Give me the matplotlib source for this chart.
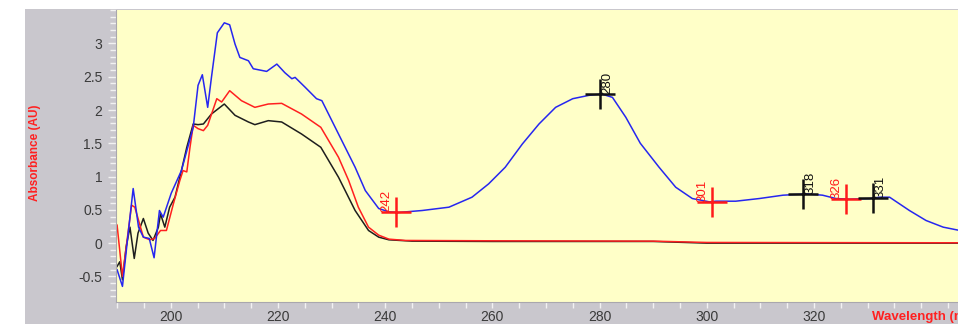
import numpy as np
import matplotlib
matplotlib.use('Agg')
import matplotlib.pyplot as plt
from matplotlib.patches import Rectangle
from matplotlib.ticker import MultipleLocator, FixedLocator, FuncFormatter

plt.rcParams['font.family'] = ['Liberation Sans', 'DejaVu Sans']

# blue trace
wl_blue = [190, 191, 192, 193, 194, 194.9, 196, 196.9, 197.9, 198.6, 200.1, 202,
           204.2, 205.1, 205.9, 206.9, 207.6, 208.7, 210, 211, 212, 212.9, 214.5,
           215.4, 217.9, 219.8, 221.3, 222.6, 223.2, 225.1, 227.2, 228.2, 231.3,
           234.4, 236.3, 238.8, 240.7, 242.4, 246.9, 251.9, 256.2, 259.3, 262.4,
           265.6, 268.7, 271.8, 275, 278, 280.4, 282.4, 284.9, 287.6, 291.1, 294.2,
           297.3, 300.5, 301.7, 305.4, 309.8, 314.2, 318.7, 321.6, 324.1, 326.6,
           330.4, 332.2, 334.1, 337.8, 340.9, 344.1, 347.2]
abs_blue = [-0.4, -0.65, 0.1, 0.82, 0.24, 0.09, 0.07, -0.22, 0.49, 0.39, 0.75, 1.09,
            1.74, 2.37, 2.53, 2.04, 2.49, 3.16, 3.31, 3.28, 2.99, 2.79, 2.74,
            2.62, 2.58, 2.69, 2.56, 2.47, 2.49, 2.34, 2.17, 2.14, 1.64,
            1.14, 0.79, 0.52, 0.47, 0.46, 0.49, 0.54, 0.69, 0.89, 1.14,
            1.49, 1.79, 2.04, 2.17, 2.22, 2.24, 2.19, 1.89, 1.5, 1.14, 0.84,
            0.67, 0.62, 0.63, 0.63, 0.67, 0.72, 0.74, 0.72, 0.67, 0.66,
            0.67, 0.69, 0.69, 0.49, 0.34, 0.24, 0.19]

# red trace
wl_red = [190, 191, 192.7, 193.3, 194.9, 196.1, 197, 198.1, 199.2, 200.5, 201.7,
          202.3, 203, 203.6, 204.2, 205.1, 206.1, 206.9, 208.6, 209.5, 211, 213.2,
          215.7, 218.2, 220.7, 224.4, 228, 231.3, 233.2, 235, 236.9, 238.8, 240.7,
          243.8, 260, 290, 300, 347]
abs_red = [0.27, -0.5, 0.57, 0.54, 0.09, 0.05, 0.07, 0.19, 0.19, 0.59, 0.94,
           1.09, 1.07, 1.44, 1.77, 1.72, 1.69, 1.77, 2.17, 2.12, 2.29, 2.14,
           2.04, 2.09, 2.10, 1.94, 1.74, 1.29, 0.94, 0.54, 0.24, 0.12, 0.06,
           0.04, 0.035, 0.03, 0.01, 0.005]

# black trace
wl_black = [190, 190.5, 191, 191.7, 192.4, 193.2, 193.9, 194.9, 195.8, 196.7, 197.7,
            198.1, 198.9, 199.8, 200.8, 202, 203, 204.2, 205.1, 206.1, 207.6, 210,
            212, 214.5, 215.7, 218.2, 220.7, 224.4, 228, 231.3, 234.4, 236.9, 238.8,
            240.7, 245, 260, 290, 300, 347]
abs_black = [-0.35, -0.28, -0.55, -0.05, 0.24, -0.23, 0.15, 0.37, 0.15, 0.04, 0.24,
             0.44, 0.24, 0.54, 0.69, 1.09, 1.44, 1.79, 1.78, 1.79, 1.94, 2.09,
             1.92, 1.82, 1.78, 1.84, 1.82, 1.64, 1.44, 0.99, 0.49, 0.19, 0.09,
             0.05, 0.03, 0.025, 0.025, 0.0, 0.0]

# peak / valley markers on the blue trace
peak_wl = [242, 280, 301, 318, 326, 331]
peak_col = ['#ff1a1a', '#111111', '#ff1a1a', '#111111', '#ff1a1a', '#111111']

x_ticks = [200, 220, 240, 260, 280, 300, 320]
y_ticks = [-0.5, 0, 0.5, 1, 1.5, 2, 2.5, 3]

fig = plt.figure(figsize=(9.58, 3.24), dpi=100)
fig.patch.set_facecolor('white')
fig.patches.append(Rectangle((25 / 958, 0), 1, (324 - 9) / 324, transform=fig.transFigure,
                             facecolor='#c9c7cd', edgecolor='none', zorder=-10))

ax = fig.add_axes([115.7 / 958, 22.3 / 324, 1 - 115.7 / 958, (301.7 - 9.5) / 324])
ax.set_facecolor('#ffffc8')

ax.plot(wl_black, abs_black, color='#1e1e1e', lw=1.1)
ax.plot(wl_red, abs_red, color='#ff2020', lw=1.1)
ax.plot(wl_blue, abs_blue, color='#2626f0', lw=1.1)

pk_abs = np.interp(peak_wl, wl_blue, abs_blue)
for w, a, c in zip(peak_wl, pk_abs, peak_col):
    ax.plot(w, a, marker='+', ms=21, mew=1.8, color=c, zorder=5)
    if c == '#111111':
        ax.annotate(str(w), (w, a), xytext=(1, 0), textcoords='offset points',
                    rotation=90, ha='left', va='bottom', fontsize=9.5, color=c)
    else:
        ax.annotate(str(w), (w, a), xytext=(-2.5, 0), textcoords='offset points',
                    rotation=90, ha='right', va='bottom', fontsize=9.5, color=c)

ax.set_xlim(189.74, 346.86)
ax.set_ylim(-0.88, 3.51)
ax.xaxis.set_major_locator(FixedLocator(x_ticks))
ax.xaxis.set_minor_locator(MultipleLocator(5))
ax.yaxis.set_major_locator(FixedLocator(y_ticks))
ax.yaxis.set_minor_locator(MultipleLocator(0.1))
ax.yaxis.set_major_formatter(FuncFormatter(lambda v, p: '%g' % v))
ax.tick_params(which='major', color='#f2f2f2', width=1,
               labelsize=10, labelcolor='#3a3a3a')
ax.tick_params(axis='x', which='major', length=4, pad=2)
ax.tick_params(axis='y', which='major', length=6, pad=3.5)
ax.tick_params(which='minor', length=4, color='#f2f2f2', width=1)

for s in ['top', 'right']:
    ax.spines[s].set_visible(False)
for s in ['left', 'bottom']:
    ax.spines[s].set_color('#a9a7ad')

fig.text(0.037, 0.528, 'Absorbance (AU)', rotation=90, color='#ff2020',
         fontsize=8.5, fontweight='bold', ha='center', va='center')
fig.text(872 / 958, 7 / 324, 'Wavelength (nm)', color='#ff2020',
         fontsize=9.5, fontweight='bold', ha='left', va='center')

plt.savefig('out.png', dpi=100)
